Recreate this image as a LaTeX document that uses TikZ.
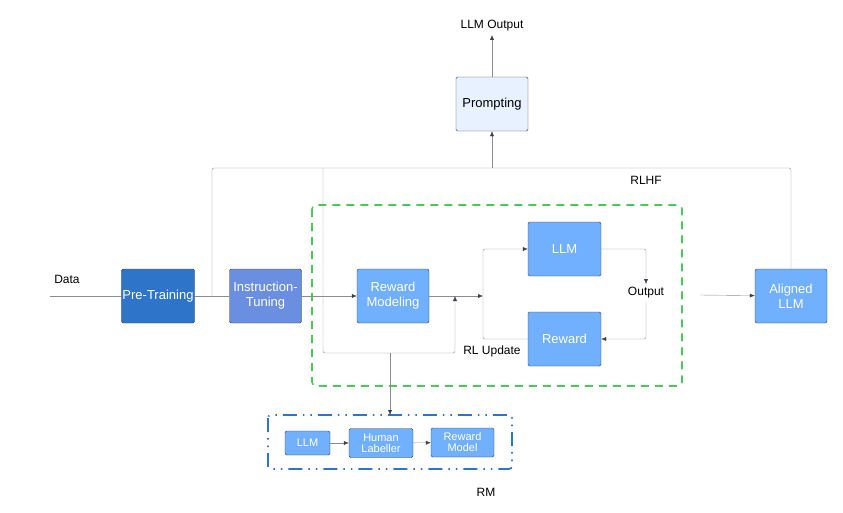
\documentclass[tikz,border=0pt]{standalone}
\usepackage{fontspec}
\setmainfont{Liberation Sans}
\usetikzlibrary{arrows.meta}
\definecolor{darkblue}{HTML}{2E75C9}
\definecolor{midblue}{HTML}{6A8FE0}
\definecolor{lightblue}{HTML}{70B0FF}
\definecolor{paleblue}{HTML}{E8F1FF}
\definecolor{edgegray}{HTML}{3C4048}
\definecolor{linegray}{HTML}{8A8E94}
\definecolor{dashgreen}{HTML}{4CC85A}
\definecolor{dashblue}{HTML}{2E75C9}
\begin{document}
\begin{tikzpicture}[x=1pt,y=-1pt,thin,
    every node/.style={font=\fontsize{12}{13}\selectfont},
    main node/.style={draw=edgegray,rounded corners=1.5,text=white,align=center,font=\fontsize{13}{15}\selectfont,minimum width=72,minimum height=54,inner sep=1},
    small node/.style={main node,font=\fontsize{11}{11}\selectfont,minimum height=29,minimum width=63},
    link/.style={draw=linegray,rounded corners=2},
    arrow/.style={link,-{Latex[length=5,width=4,fill=edgegray,color=edgegray]}}]
    \useasboundingbox (0,0) rectangle (843,512);
    \node[main node,fill=darkblue] at (158,296) (pre) {Pre-Training};
    \node[main node,fill=midblue] at (265.5,296) (inst) {Instruction-\\Tuning};
    \node[main node,fill=lightblue] at (393,296) (rm) {Reward\\Modeling};
    \node[main node,fill=lightblue,minimum width=73] at (564.5,249) (llm) {LLM};
    \node[main node,fill=lightblue,minimum width=73] at (564.5,339) (reward) {Reward};
    \node[main node,fill=lightblue] at (791,296) (aligned) {Aligned\\LLM};
    \node[main node,fill=paleblue,text=black] at (492,104) (prompt) {Prompting};
    \node at (492,26) (out) {LLM Output};
    \node at (67,279) (data) {Data};
    \node at (646,180) (rlhf) {RLHF};
    \node at (646,293) (output) {Output};
    \node at (492,351) (rlupd) {RL Update};
    \node at (486,492) (rmlabel) {RM};
    \coordinate (start) at (50,296);
    \coordinate (free) at (700,295);
    % boxes round the loop and the reward model
    \draw[dashgreen,line width=1.6,dash pattern=on 8 off 6,rounded corners=4] (312,205) rectangle (682,386);
    \draw[dashblue,line width=1.6,dash pattern=on 14 off 6 on 1.5 off 6 on 1.5 off 6,rounded corners=3] (268,415) rectangle (512,469);
    \node[small node,fill=lightblue,minimum width=45,minimum height=24] at (307.5,443) (sllm) {LLM};
    \node[small node,fill=lightblue,minimum width=64] at (381,443) (human) {Human\\Labeller};
    \node[small node,fill=lightblue] at (462.5,442.5) (rmodel) {Reward\\Model};
    \draw[arrow] (sllm) -- (human);
    \draw[arrow] (human) -- (rmodel);
    % main flow
    \draw[link] (start) -- (pre);
    \draw[link] (pre) -- (inst);
    \draw[arrow] (inst) -- (rm);
    \draw[arrow] (rm) -- (483,296);
    \draw[arrow] (483,296) |- (llm);
    \draw[link] (483,296) |- (reward);
    \draw[arrow] (llm.east) -| (output.north);
    \draw[arrow] (output.south) |- (reward.east);
    \draw[arrow] (free) -- (aligned);
    % feedback lines
    \draw[link] (212,296) |- (492,168);
    \draw[link] (aligned.north) |- (492,168);
    \draw[arrow] (492,168) -- (prompt);
    \draw[arrow] (prompt) -- (out);
    \draw[link] (323,168) |- (390,353);
    \draw[arrow] (390,353) -| (455,296);
    \draw[arrow] (390,353) -- (390,415);
\end{tikzpicture}
\end{document}
